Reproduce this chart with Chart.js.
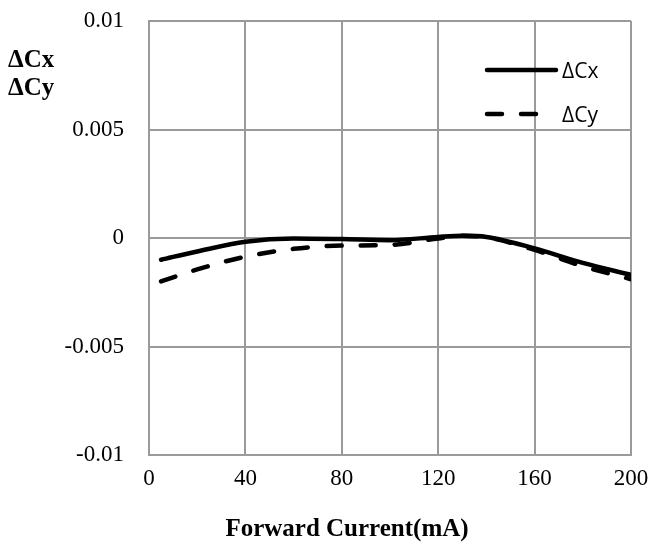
<!DOCTYPE html>
<html>
<head>
<meta charset="utf-8">
<script src="https://cdn.jsdelivr.net/npm/chart.js@4.4.0/dist/chart.umd.min.js"></script>
<style>
  html, body { margin: 0; padding: 0; background: #fff; }
  #wrap { width: 651px; height: 544px; }
</style>
</head>
<body>
<div id="wrap"><canvas id="grafico"></canvas></div>
<script>
// datos
const corriente = [5, 20, 40, 60, 80, 100, 120, 130, 140, 160, 180, 200];
const deltaCx = [-0.001, -0.00062, -0.00017, -0.00002, -0.00005, -0.0001, 0.00005, 0.0001, 0.00005, -0.00048, -0.00115, -0.0017];
const deltaCy = [-0.002, -0.00145, -0.00086, -0.0005, -0.00035, -0.00032, -0.00002, 0.0001, 0.00003, -0.00055, -0.0013, -0.0019];
const etiquetas = ['\u0394Cx', '\u0394Cy'];
const tituloX = 'Forward Current(mA)';

const serif = "'Liberation Serif', 'Times New Roman', serif";
const gris = '#9a9a9a';

// leyenda y titulos dibujados a mano
const extras = {
    id: 'extras',
    afterDraw(chart) {
        const ctx = chart.ctx;
        ctx.save();
        ctx.fillStyle = '#000';
        ctx.font = "bold 25px " + serif;
        ctx.textBaseline = 'alphabetic';
        ctx.textAlign = 'left';
        ctx.fillText('\u0394Cx', 8, 67);
        ctx.fillText('\u0394Cy', 8, 95);

        ctx.textAlign = 'center';
        ctx.textBaseline = 'middle';
        ctx.font = "bold 25px " + serif;
        ctx.fillText(tituloX, 347, 530);

        ctx.textAlign = 'left';
        const filas = [70, 114];
        chart.data.datasets.forEach((ds, i) => {
            const y = filas[i];
            ctx.beginPath();
            ctx.strokeStyle = ds.borderColor;
            ctx.lineWidth = ds.borderWidth;
            ctx.lineCap = 'round';
            ctx.setLineDash(ds.borderDash || []);
            ctx.moveTo(487, y);
            ctx.lineTo(i === 0 ? 556 : 541, y);
            ctx.stroke();
            ctx.setLineDash([]);
            ctx.font = "21px 'Open Sans', sans-serif";
            ctx.textBaseline = 'middle';
            ctx.fillText(ds.label, 562, y + 2);
        });
        ctx.restore();
    }
};

const ctx = document.getElementById('grafico').getContext('2d');
new Chart(ctx, {
    type: 'line',
    data: {
        labels: corriente,
        datasets: [{
            label: etiquetas[0],
            data: corriente.map((x, i) => ({ x: x, y: deltaCx[i] })),
            borderColor: '#000',
            borderWidth: 4.5,
            borderCapStyle: 'round',
            pointRadius: 0,
            cubicInterpolationMode: 'monotone',
            fill: false
        }, {
            label: etiquetas[1],
            data: corriente.map((x, i) => ({ x: x, y: deltaCy[i] })),
            borderColor: '#000',
            borderWidth: 4.5,
            borderDash: [15, 19],
            borderCapStyle: 'round',
            pointRadius: 0,
            cubicInterpolationMode: 'monotone',
            fill: false
        }]
    },
    options: {
        responsive: true,
        maintainAspectRatio: false,
        animation: false,
        layout: { padding: { top: 21, right: 20, left: 0, bottom: 0 } },
        plugins: {
            legend: { display: false },
            tooltip: { enabled: false }
        },
        scales: {
            x: {
                type: 'linear',
                min: 0,
                max: 200,
                ticks: {
                    stepSize: 40,
                    color: '#000',
                    padding: 10,
                    font: { family: serif, size: 23 }
                },
                grid: { color: gris, lineWidth: 2, drawTicks: false },
                border: { color: gris, width: 2 },
                afterFit(scale) {
                    scale.height = 89;
                    scale.paddingLeft = 0;
                    scale.paddingRight = 0;
                }
            },
            y: {
                min: -0.01,
                max: 0.01,
                ticks: {
                    stepSize: 0.005,
                    color: '#000',
                    padding: 25,
                    font: { family: serif, size: 23 },
                    callback: v => String(Number(v.toFixed(3)))
                },
                grid: { color: gris, lineWidth: 2, drawTicks: false },
                border: { color: gris, width: 2 },
                afterFit(scale) {
                    scale.width = 149;
                    scale.paddingTop = 0;
                    scale.paddingBottom = 0;
                }
            }
        }
    },
    plugins: [extras]
});
</script>
</body>
</html>
